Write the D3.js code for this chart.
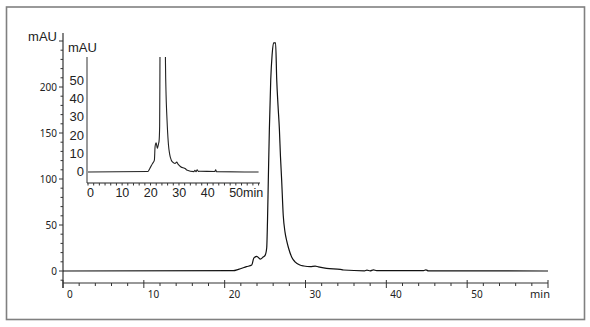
<!DOCTYPE html>
<html>
<head>
<meta charset="utf-8">
<script src="https://cdn.jsdelivr.net/npm/d3@7"></script>
<style>
  body { margin: 0; background: #fff; }
  svg { display: block; }
</style>
</head>
<body>
<div id="chart"></div>
<script>
// chromatogram trace (min, mAU)
var times  = [0, 21.07, 21.7, 22.7, 23.35, 23.6, 23.97, 24.4, 24.8, 25.0, 25.2, 25.3, 25.4, 25.53, 25.7, 25.87, 26.05, 26.3, 26.44, 26.6, 26.77, 26.9, 27.05, 27.25, 27.47, 27.67, 27.9, 28.3, 28.7, 29.3, 29.8, 30.6, 31.2, 31.6, 32.6, 34.3, 34.7, 37.3, 37.6, 38.0, 38.4, 38.8, 39.2, 44.6, 44.9, 45.2, 60];
var mAU    = [0, 0.3, 1.8, 4.7, 6.5, 14, 16, 13, 15.5, 17, 25, 55, 99, 154, 208, 235, 248, 248, 208, 180, 154, 125, 99, 60, 42, 33, 25, 15, 10, 6.5, 5.4, 4.7, 5.4, 4.5, 2.9, 1.8, 1.1, 0.2, 1.0, 0.2, 1.2, 0.3, 0.4, 0.3, 1.2, 0.2, 0];

var mainXTicks = [0, 10, 20, 30, 40, 50];
var mainYTicks = [0, 50, 100, 150, 200];
var insetXTicks = [0, 10, 20, 30, 40, 50];
var insetXLabels = ["0", "10", "20", "30", "40", "50min"];
var insetYTicks = [0, 10, 20, 30, 40, 50];

var W = 590, H = 327;
var data = times.map(function(t, i){ return {t: t, v: mAU[i]}; });

var svg = d3.select("#chart").append("svg")
    .attr("width", W).attr("height", H);

// outer frame
svg.append("rect")
    .attr("x", 6.5).attr("y", 7).attr("width", 578).attr("height", 312.5)
    .style("fill", "none").style("stroke", "#808080").style("stroke-width", 1.6);

// ---- main chart ----
var x = d3.scaleLinear().domain([0, 60]).range([63, 548]);
var y = d3.scaleLinear().domain([0, 200]).range([271, 87]);

var axisCol = "#333";
var labelFont = "'Noto Sans', 'Open Sans', sans-serif";

// y axis
svg.append("line")
    .attr("x1", 63).attr("x2", 63).attr("y1", 33).attr("y2", 288)
    .style("stroke", axisCol).style("stroke-width", 1.2);

svg.append("g").selectAll("line")
    .data(d3.range(-10, 260, 10))
    .enter().append("line")
    .attr("x1", function(d){ return d % 50 == 0 ? 59 : 60.5; })
    .attr("x2", 63)
    .attr("y1", function(d){ return y(d); })
    .attr("y2", function(d){ return y(d); })
    .style("stroke", axisCol).style("stroke-width", 1);

svg.append("g").selectAll("text")
    .data(mainYTicks)
    .enter().append("text")
    .attr("x", 57)
    .attr("y", function(d){ return y(d) + 3.5; })
    .attr("text-anchor", "end")
    .style("font-family", labelFont).style("font-size", "10px").style("fill", "#222")
    .text(function(d){ return d; });

svg.append("text")
    .attr("x", 57).attr("y", 41)
    .attr("text-anchor", "end")
    .style("font-family", "'Liberation Sans', Arial, sans-serif").style("font-size", "13px").style("fill", "#222")
    .text("mAU");

// x axis
svg.append("line")
    .attr("x1", 63).attr("x2", 548).attr("y1", 283).attr("y2", 283)
    .style("stroke", axisCol).style("stroke-width", 1.2);

svg.append("g").selectAll("line")
    .data(d3.range(0, 61, 2))
    .enter().append("line")
    .attr("x1", function(d){ return x(d); })
    .attr("x2", function(d){ return x(d); })
    .attr("y1", function(d){ return d % 10 == 0 ? 280 : 283; })
    .attr("y2", function(d){ return d % 10 == 0 ? 288 : 286; })
    .style("stroke", axisCol).style("stroke-width", 1);

svg.append("g").selectAll("text")
    .data(mainXTicks)
    .enter().append("text")
    .attr("x", function(d){ return x(d) + 4; })
    .attr("y", 298)
    .attr("text-anchor", "start")
    .style("font-family", labelFont).style("font-size", "10px").style("fill", "#222")
    .text(function(d){ return d; });

svg.append("text")
    .attr("x", 550).attr("y", 298)
    .attr("text-anchor", "end")
    .style("font-family", labelFont).style("font-size", "11px").style("fill", "#222")
    .text("min");

var line = d3.line()
    .x(function(d){ return x(d.t); })
    .y(function(d){ return y(d.v); })
    .curve(d3.curveMonotoneX);

svg.append("path")
    .datum(data)
    .attr("d", line)
    .style("fill", "none").style("stroke", "#111").style("stroke-width", 1.2);

// ---- inset ----
var ix = d3.scaleLinear().domain([0, 60.5]).range([88, 260]);
var iy = d3.scaleLinear().domain([0, 50]).range([172, 81]);
var insetFont = "'Liberation Sans', Arial, sans-serif";

svg.append("clipPath").attr("id", "insetClip")
    .append("rect")
    .attr("x", 87).attr("y", 57).attr("width", 174).attr("height", 126);

svg.append("line")
    .attr("x1", 87).attr("x2", 87).attr("y1", 57).attr("y2", 183)
    .style("stroke", "#555").style("stroke-width", 1.2);

svg.append("line")
    .attr("x1", 87).attr("x2", 260).attr("y1", 183).attr("y2", 183)
    .style("stroke", "#222").style("stroke-width", 1.2);

svg.append("g").selectAll("line")
    .data(d3.range(0, 61, 2))
    .enter().append("line")
    .attr("x1", function(d){ return ix(d); })
    .attr("x2", function(d){ return ix(d); })
    .attr("y1", 183)
    .attr("y2", 185.5)
    .style("stroke", "#333").style("stroke-width", 1);

svg.append("g").selectAll("text")
    .data(insetYTicks)
    .enter().append("text")
    .attr("x", 84)
    .attr("y", function(d){ return iy(d) + 4; })
    .attr("text-anchor", "end")
    .style("font-family", insetFont).style("font-size", "13px").style("fill", "#222")
    .text(function(d){ return d; });

svg.append("g").selectAll("text")
    .data(insetXTicks)
    .enter().append("text")
    .attr("x", function(d){ return ix(d) - 1; })
    .attr("y", 197)
    .attr("text-anchor", "start")
    .style("font-family", insetFont).style("font-size", "12.5px").style("fill", "#222")
    .text(function(d, i){ return insetXLabels[i]; });

svg.append("text")
    .attr("x", 68).attr("y", 52)
    .style("font-family", insetFont).style("font-size", "13px").style("fill", "#222")
    .text("mAU");

var insetLine = d3.line()
    .x(function(d){ return ix(d.t); })
    .y(function(d){ return iy(d.v); })
    .curve(d3.curveMonotoneX);

svg.append("path")
    .datum(data)
    .attr("d", insetLine)
    .attr("clip-path", "url(#insetClip)")
    .style("fill", "none").style("stroke", "#222").style("stroke-width", 1.1);
</script>
</body>
</html>
